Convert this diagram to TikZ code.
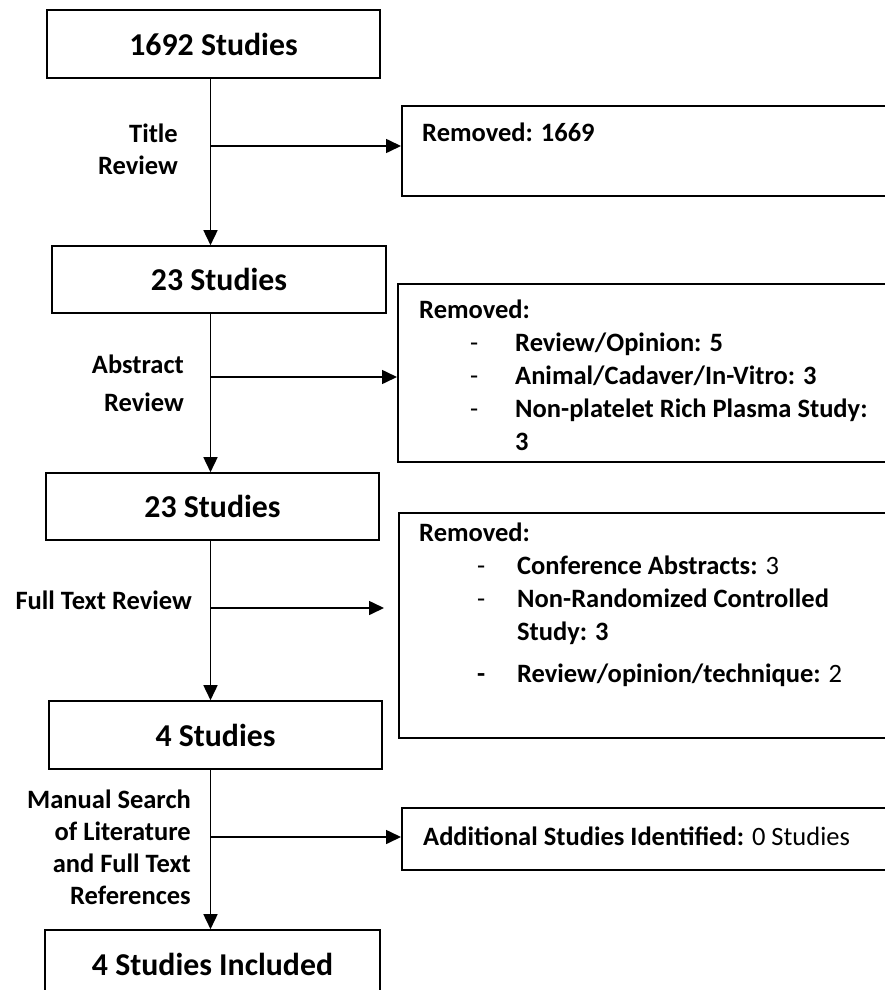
\documentclass[tikz,border=0pt]{standalone}
\usepackage{fontspec}
\setmainfont{Carlito}
\usetikzlibrary{arrows.meta,positioning}
\tikzset{
  flow/.style     = {-{Triangle[length=15pt,width=14pt]}, line width=1.6pt},
  stage/.style    = {draw, line width=1.6pt, minimum width=333pt, minimum height=68pt,
                     inner sep=0pt, font=\fontsize{31.8}{38}\selectfont\bfseries},
  sidebox/.style  = {draw, line width=1.6pt, anchor=north west, minimum width=520pt, inner sep=0pt},
  phase/.style    = {anchor=east, align=right, inner sep=0pt, font=\fontsize{26.5}{32}\selectfont\bfseries},
  sidetext/.style = {anchor=base west, inner sep=0pt, font=\fontsize{26.5}{33}\selectfont}
}

\begin{document}
\begin{tikzpicture}[x=1pt,y=-1pt]
  \useasboundingbox (0,0) rectangle (885,990);
  \clip (0,0) rectangle (885,990);

  % main column
  \node[stage] (b1) at (213.5,44) {1692 Studies};
  \node[stage, minimum height=67pt, minimum width=334pt] (b2) at (219,279.5) {23 Studies};
  \node[stage, minimum height=67pt] (b3) at (212.5,506.5) {23 Studies};
  \node[stage] (b4) at (215.5,735) {4 Studies};
  \node[stage, minimum width=335pt] (b5) at (212.5,964) {4 Studies Included};
  \coordinate (trunk) at (210.5,0);

  % side boxes
  \node[sidebox, minimum height=90pt] (rem1) at (401,105) {};
  \node[sidebox, minimum height=178pt] (rem2) at (397,283) {};
  \node[sidebox, minimum height=225pt] (rem3) at (398,512) {};
  \node[sidebox, minimum height=62pt] (add1) at (401,807) {};

  \node[sidetext] (rem1txt) at (422,141.5) {\textbf{Removed: 1669}};
  \node[sidetext] (rem2txt) at (419,318.5) {\begin{tabular}[t]{@{}p{51pt}@{}p{45pt}@{}l@{}}
      \multicolumn{3}{@{}l}{\textbf{Removed:}}\\
      & - & \textbf{Review/Opinion: 5}\\
      & - & \textbf{Animal/Cadaver/In-Vitro: 3}\\
      & - & \textbf{Non-platelet Rich Plasma Study:}\\
      &   & \textbf{3}
    \end{tabular}};
  \node[sidetext] (rem3txt) at (419,541.5) {\begin{tabular}[t]{@{}p{58pt}@{}p{40pt}@{}l@{}}
      \multicolumn{3}{@{}l}{\textbf{Removed:}}\\
      & - & \textbf{Conference Abstracts:} 3\\
      & - & \textbf{Non-Randomized Controlled}\\
      &   & \textbf{Study: 3}\\[9pt]
      & \textbf{-} & \textbf{Review/opinion/technique:} 2
    \end{tabular}};
  \node[sidetext] (add1txt) at (423,845.5) {\textbf{Additional Studies Identified:} 0 Studies};

  % screening labels
  \node[phase] (l1) at (178,149) {Title\\Review};
  \node[phase] (l2) at (184,383) {Abstract\\[6pt]Review};
  \node[phase] (l3) at (192,600) {Full Text Review};
  \node[phase] (l4) at (191,847) {Manual Search\\of Literature\\and Full Text\\References};

  % arrows
  \draw[flow] (b1.south -| trunk) -- (b2.north -| trunk);
  \draw[flow] (b2.south -| trunk) -- (b3.north -| trunk);
  \draw[flow] (b3.south -| trunk) -- (b4.north -| trunk);
  \draw[flow] (b4.south -| trunk) -- (b5.north -| trunk);

  \coordinate (s1) at (210.5,146);
  \coordinate (s2) at (210.5,377);
  \coordinate (s3) at (210.5,608);
  \coordinate (s4) at (210.5,837);
  \draw[flow] (s1) -- (s1 -| rem1.west);
  \draw[flow] (s2) -- (s2 -| rem2.west);
  \draw[flow, shorten >=14pt] (s3) -- (s3 -| rem3.west);
  \draw[flow] (s4) -- (s4 -| add1.west);
\end{tikzpicture}
\end{document}
